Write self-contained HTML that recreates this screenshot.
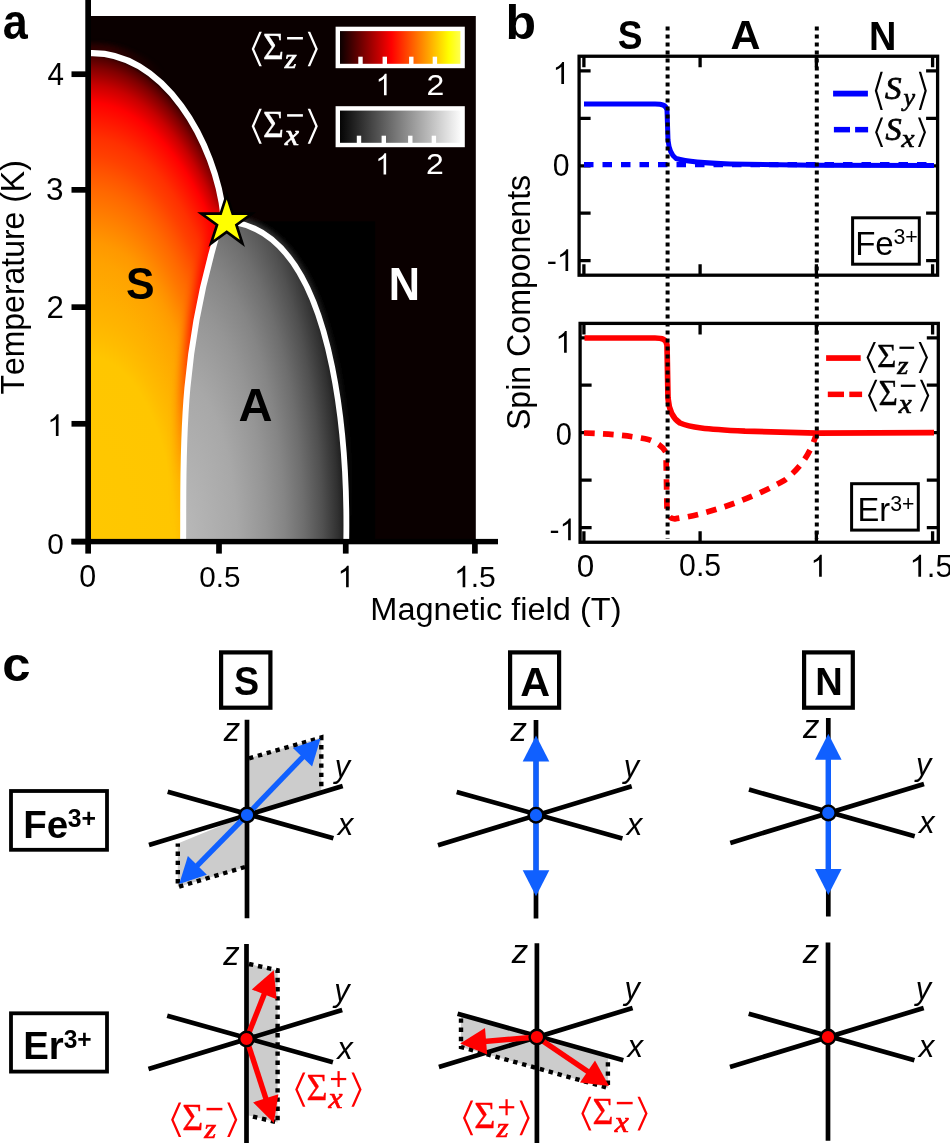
<!DOCTYPE html><html><head><meta charset="utf-8"><style>html,body{margin:0;padding:0;background:#fff;overflow:hidden}svg{display:block;will-change:transform}text{font-family:"Liberation Sans",sans-serif;font-kerning:none}</style></head><body>
<svg width="950" height="1143" viewBox="0 0 950 1143">
<defs>
<radialGradient id="gS" gradientUnits="userSpaceOnUse" cx="0" cy="0" r="1" gradientTransform="translate(88 541.7) scale(228 487)"><stop offset="0" stop-color="#ffc800"/><stop offset="0.38" stop-color="#ffc600"/><stop offset="0.42" stop-color="#ffbc00"/><stop offset="0.46" stop-color="#ffb400"/><stop offset="0.525" stop-color="#ffaa00"/><stop offset="0.575" stop-color="#ffa200"/><stop offset="0.597" stop-color="#ff9c00"/><stop offset="0.614" stop-color="#ff9800"/><stop offset="0.65" stop-color="#ff8800"/><stop offset="0.686" stop-color="#ff7800"/><stop offset="0.722" stop-color="#ff6800"/><stop offset="0.758" stop-color="#ff5500"/><stop offset="0.794" stop-color="#ff4000"/><stop offset="0.83" stop-color="#ff3000"/><stop offset="0.866" stop-color="#ff1800"/><stop offset="0.902" stop-color="#ff0000"/><stop offset="0.938" stop-color="#c80000"/><stop offset="0.974" stop-color="#800000"/><stop offset="0.994" stop-color="#500000"/><stop offset="1.0" stop-color="#300000"/></radialGradient>
<radialGradient id="gS2" gradientUnits="userSpaceOnUse" cx="0" cy="0" r="1" gradientTransform="translate(88 541.7) scale(200 487)"><stop offset="0" stop-color="#ffc800" stop-opacity="0.00"/><stop offset="0.5" stop-color="#ffab00" stop-opacity="0.00"/><stop offset="0.56" stop-color="#ffa400" stop-opacity="0.33"/><stop offset="0.575" stop-color="#ffa200" stop-opacity="0.42"/><stop offset="0.597" stop-color="#ff9c00" stop-opacity="0.54"/><stop offset="0.614" stop-color="#ff9800" stop-opacity="0.63"/><stop offset="0.65" stop-color="#ff8800" stop-opacity="0.83"/><stop offset="0.686" stop-color="#ff7800" stop-opacity="1.00"/><stop offset="0.722" stop-color="#ff6800" stop-opacity="1.00"/><stop offset="0.758" stop-color="#ff5500" stop-opacity="1.00"/><stop offset="0.794" stop-color="#ff4000" stop-opacity="1.00"/><stop offset="0.83" stop-color="#ff3000" stop-opacity="1.00"/><stop offset="0.866" stop-color="#ff1800" stop-opacity="1.00"/><stop offset="0.902" stop-color="#ff0000" stop-opacity="1.00"/><stop offset="0.938" stop-color="#c80000" stop-opacity="1.00"/><stop offset="0.974" stop-color="#800000" stop-opacity="1.00"/><stop offset="0.994" stop-color="#500000" stop-opacity="1.00"/><stop offset="1.0" stop-color="#300000" stop-opacity="1.00"/></radialGradient>
<radialGradient id="gA" gradientUnits="userSpaceOnUse" cx="0" cy="0" r="1" gradientTransform="translate(175 541.7) scale(172 454)"><stop offset="0" stop-color="#bababa"/><stop offset="0.06" stop-color="#b8b8b8"/><stop offset="0.36" stop-color="#a8a8a8"/><stop offset="0.53" stop-color="#959595"/><stop offset="0.64" stop-color="#858585"/><stop offset="0.75" stop-color="#6e6e6e"/><stop offset="0.86" stop-color="#505050"/><stop offset="0.95" stop-color="#303030"/><stop offset="1.0" stop-color="#181818"/></radialGradient>
<linearGradient id="gHot" x1="0" x2="1" y1="0" y2="0"><stop offset="0" stop-color="#000000"/><stop offset="0.43" stop-color="#ff0000"/><stop offset="0.89" stop-color="#ffff00"/><stop offset="1" stop-color="#ffff60"/></linearGradient>
<linearGradient id="gGray" x1="0" x2="1" y1="0" y2="0"><stop offset="0" stop-color="#000"/><stop offset="1" stop-color="#ffffff"/></linearGradient>
<clipPath id="cpA"><rect x="91" y="0" width="385" height="539"/></clipPath>
<clipPath id="cpS"><path d="M86.0,53.4 C163.8,47.8 216.3,144.7 223.5,216.0 L216.5,236.0 C178.1,364.2 184.0,465.7 183.1,545.0 L86,545 Z"/></clipPath>
<linearGradient id="gB" gradientUnits="userSpaceOnUse" x1="0" y1="200" x2="0" y2="541"><stop offset="0" stop-color="#f00" stop-opacity="1"/><stop offset="0.235" stop-color="#f00" stop-opacity="0.95"/><stop offset="0.44" stop-color="#f00" stop-opacity="0.7"/><stop offset="0.645" stop-color="#f00" stop-opacity="0.3"/><stop offset="0.82" stop-color="#f00" stop-opacity="0.06"/><stop offset="1" stop-color="#f00" stop-opacity="0"/></linearGradient>
<filter id="fB" x="-50%" y="-10%" width="200%" height="120%"><feGaussianBlur stdDeviation="5"/></filter>
<linearGradient id="gH" gradientUnits="userSpaceOnUse" x1="0" y1="220" x2="0" y2="541"><stop offset="0" stop-color="#3a3a3a" stop-opacity="0.9"/><stop offset="0.3" stop-color="#3a3a3a" stop-opacity="0.5"/><stop offset="0.7" stop-color="#444" stop-opacity="0.15"/><stop offset="1" stop-color="#444" stop-opacity="0"/></linearGradient>
<filter id="fH" x="-20%" y="-20%" width="140%" height="140%"><feGaussianBlur stdDeviation="2.5"/></filter>
<linearGradient id="gMk" gradientUnits="userSpaceOnUse" x1="110" y1="0" x2="165" y2="0"><stop offset="0" stop-color="#fff"/><stop offset="1" stop-color="#000"/></linearGradient><mask id="mG" maskUnits="userSpaceOnUse" x="0" y="0" width="950" height="600"><rect x="91" y="16" width="120" height="110" fill="url(#gMk)"/></mask>
</defs>
<g transform="matrix(0.4491 0 0 0.4927 2.85 39.11)" fill="#000" style="color:#000"><text x="0" y="0" font-size="100" font-weight="bold">a</text></g>
<rect x="91" y="16" width="384.8" height="523" fill="#0a0000"/>
<rect x="247" y="221.3" width="128.1" height="318" fill="#000"/>
<g clip-path="url(#cpA)">
<g mask="url(#mG)"><path d="M86.0,53.4 C163.8,47.8 216.3,144.7 223.5,216.0" fill="none" stroke="url(#gS)" stroke-width="20" opacity="0.9" filter="url(#fH)"/></g>
<path d="M86.0,53.4 C163.8,47.8 216.3,144.7 223.5,216.0 L216.5,236.0 C178.1,364.2 184.0,465.7 183.1,545.0 L86,545 Z" fill="url(#gS)"/>
<path d="M86.0,53.4 C163.8,47.8 216.3,144.7 223.5,216.0 L216.5,236.0 C178.1,364.2 184.0,465.7 183.1,545.0 L86,545 Z" fill="url(#gS2)"/>
<path d="M236.0,222.5 C344.3,243.3 347.4,479.6 346.2,545.0" fill="none" stroke="url(#gH)" stroke-width="12" filter="url(#fH)"/>
<path d="M216.5,236.0 C178.1,364.2 184.0,465.7 183.1,545.0 L346.2,545 C347.4,479.6 344.3,243.3 236.0,222.5 L226,224 Z" fill="url(#gA)"/>
<g clip-path="url(#cpS)"><path d="M222,212 L216.5,236 C178.1,364.2 184.0,465.7 183.1,545.0" fill="none" stroke="url(#gB)" stroke-width="14" filter="url(#fB)"/></g>
<path d="M86.0,53.4 C163.8,47.8 216.3,144.7 223.5,216.0" fill="none" stroke="#fff" stroke-width="6.2"/>
<path d="M216.5,236.0 C178.1,364.2 184.0,465.7 183.1,545.0" fill="none" stroke="#fff" stroke-width="6"/>
<path d="M236.0,222.5 C344.3,243.3 347.4,479.6 346.2,545.0" fill="none" stroke="#fff" stroke-width="5.8"/>
</g>
<path d="M226.70,195.10 L232.70,213.55 L252.09,213.55 L236.40,224.95 L242.39,243.40 L226.70,232.00 L211.01,243.40 L217.00,224.95 L201.31,213.55 L220.70,213.55Z" fill="#ffff00" stroke="#000" stroke-width="2.7"/>
<g transform="matrix(0.4283 0 0 0.4451 126.12 299.15)" fill="#000" style="color:#000"><text x="0" y="0" font-size="100" font-weight="bold">S</text></g>
<g transform="matrix(0.4712 0 0 0.4618 238.59 420.66)" fill="#000" style="color:#000"><text x="0" y="0" font-size="100" font-weight="bold">A</text></g>
<g transform="matrix(0.4328 0 0 0.4594 388.87 299.80)" fill="#fff" style="color:#fff"><text x="0" y="0" font-size="100" font-weight="bold">N</text></g>
<rect x="337.8" y="28.9" width="124.8" height="37.1" fill="url(#gHot)" stroke="#fff" stroke-width="4.4"/>
<rect x="358.3" y="56.7" width="4.4" height="8" fill="#fff"/>
<rect x="382.6" y="56.7" width="4.4" height="8" fill="#fff"/>
<rect x="409.1" y="56.7" width="4.4" height="8" fill="#fff"/>
<rect x="432.7" y="56.7" width="4.4" height="8" fill="#fff"/>
<rect x="337.8" y="108.4" width="124.8" height="36.6" fill="url(#gGray)" stroke="#fff" stroke-width="4.4"/>
<rect x="356.8" y="135.7" width="4.4" height="8" fill="#fff"/>
<rect x="381.6" y="135.7" width="4.4" height="8" fill="#fff"/>
<rect x="408.1" y="135.7" width="4.4" height="8" fill="#fff"/>
<rect x="431.7" y="135.7" width="4.4" height="8" fill="#fff"/>
<g transform="matrix(0.2986 0 0 0.2986 375.48 95.30)" fill="#fff" style="color:#fff"><g transform="translate(0 0)"><path d="M763,0 L583,0 L583,1147 Q518,1085 413,1023 Q308,961 223,930 L223,1104 Q374,1175 487,1276 Q600,1377 647,1472 L763,1472 Z" transform="scale(0.048828 -0.048828)"/></g></g>
<g transform="matrix(0.3196 0 0 0.3000 426.50 94.80)" fill="#fff" style="color:#fff"><text x="0" y="0" font-size="100">2</text></g>
<g transform="matrix(0.2944 0 0 0.2944 375.18 174.50)" fill="#fff" style="color:#fff"><g transform="translate(0 0)"><path d="M763,0 L583,0 L583,1147 Q518,1085 413,1023 Q308,961 223,930 L223,1104 Q374,1175 487,1276 Q600,1377 647,1472 L763,1472 Z" transform="scale(0.048828 -0.048828)"/></g></g>
<g transform="matrix(0.3196 0 0 0.3000 425.90 174.30)" fill="#fff" style="color:#fff"><text x="0" y="0" font-size="100">2</text></g>
<path d="M259.30,31.70 L261.80,31.70 L254.20,49.00 L261.80,66.30 L259.30,66.30 L251.70,49.00Z M310.20,31.70 L307.70,31.70 L315.30,49.00 L307.70,66.30 L310.20,66.30 L317.80,49.00Z" fill="#fff"/>
<g transform="matrix(0.3588 0 0 0.3818 262.92 59.32)" fill="#fff" style="color:#fff"><text stroke="currentColor" stroke-width="1.0" x="0" y="0" font-size="100" style="font-family:'Liberation Serif',serif">&#931;</text></g>
<rect x="287.10" y="37.00" width="15.80" height="2.50" fill="#fff"/>
<g transform="matrix(0.3073 0 0 0.2812 284.81 67.72)" fill="#fff" style="color:#fff"><text stroke="currentColor" stroke-width="2.5" x="0" y="0" font-size="100" font-style="italic" style="font-family:'Liberation Serif',serif">z</text></g>
<path d="M259.30,108.80 L261.80,108.80 L254.20,126.30 L261.80,143.80 L259.30,143.80 L251.70,126.30Z M310.20,108.80 L307.70,108.80 L315.30,126.30 L307.70,143.80 L310.20,143.80 L317.80,126.30Z" fill="#fff"/>
<g transform="matrix(0.3588 0 0 0.3862 262.92 136.74)" fill="#fff" style="color:#fff"><text stroke="currentColor" stroke-width="1.0" x="0" y="0" font-size="100" style="font-family:'Liberation Serif',serif">&#931;</text></g>
<rect x="287.10" y="114.16" width="15.80" height="2.53" fill="#fff"/>
<g transform="matrix(0.3149 0 0 0.2950 284.93 145.33)" fill="#fff" style="color:#fff"><text stroke="currentColor" stroke-width="2.5" x="0" y="0" font-size="100" font-style="italic" style="font-family:'Liberation Serif',serif">x</text></g>
<rect x="85.3" y="0" width="5.7" height="553.6" fill="#000"/>
<rect x="71.5" y="538.9" width="426.5" height="5.4" fill="#000"/>
<rect x="71.5" y="538.75" width="15" height="5.7" fill="#000"/>
<rect x="71.5" y="420.95" width="15" height="5.7" fill="#000"/>
<rect x="71.5" y="304.30" width="15" height="5.7" fill="#000"/>
<rect x="71.5" y="187.00" width="15" height="5.7" fill="#000"/>
<rect x="71.5" y="71.35" width="15" height="5.7" fill="#000"/>
<rect x="216.15" y="544" width="5.7" height="9.6" fill="#000"/>
<rect x="342.90" y="544" width="5.7" height="9.6" fill="#000"/>
<rect x="472.05" y="544" width="5.7" height="9.6" fill="#000"/>
<g transform="matrix(0.2961 0 0 0.3162 47.41 84.82)" fill="#000" style="color:#000"><text x="0" y="0" font-size="100">4</text></g>
<g transform="matrix(0.3149 0 0 0.3113 46.04 200.09)" fill="#000" style="color:#000"><text x="0" y="0" font-size="100">3</text></g>
<g transform="matrix(0.3120 0 0 0.3157 46.49 318.20)" fill="#000" style="color:#000"><text x="0" y="0" font-size="100">2</text></g>
<g transform="matrix(0.3028 0 0 0.3028 47.26 436.00)" fill="#000" style="color:#000"><g transform="translate(0 0)"><path d="M763,0 L583,0 L583,1147 Q518,1085 413,1023 Q308,961 223,930 L223,1104 Q374,1175 487,1276 Q600,1377 647,1472 L763,1472 Z" transform="scale(0.048828 -0.048828)"/></g></g>
<g transform="matrix(0.2979 0 0 0.3028 47.21 553.70)" fill="#000" style="color:#000"><text x="0" y="0" font-size="100">0</text></g>
<g transform="matrix(0.3042 0 0 0.3070 79.18 586.89)" fill="#000" style="color:#000"><text x="0" y="0" font-size="100">0</text></g>
<g transform="matrix(0.2962 0 0 0.2986 199.22 586.90)" fill="#000" style="color:#000"><text x="0" y="0" font-size="100">0.5</text></g>
<g transform="matrix(0.2986 0 0 0.2986 337.58 587.20)" fill="#000" style="color:#000"><g transform="translate(0 0)"><path d="M763,0 L583,0 L583,1147 Q518,1085 413,1023 Q308,961 223,930 L223,1104 Q374,1175 487,1276 Q600,1377 647,1472 L763,1472 Z" transform="scale(0.048828 -0.048828)"/></g></g>
<g transform="matrix(0.3000 0 0 0.3000 454.10 587.30)" fill="#000" style="color:#000"><g transform="translate(0 0)"><path d="M763,0 L583,0 L583,1147 Q518,1085 413,1023 Q308,961 223,930 L223,1104 Q374,1175 487,1276 Q600,1377 647,1472 L763,1472 Z" transform="scale(0.048828 -0.048828)"/></g><text x="55.6" y="0" font-size="100">.5</text></g>
<g transform="matrix(0.3252 0 0 0.3202 370.30 619.58)" fill="#000" style="color:#000"><text x="0" y="0" font-size="100">Magnetic field (T)</text></g>
<g transform="translate(23.60 394.54) rotate(-90) scale(0.3196 0.3324)" fill="#000"><text x="0" y="0" font-size="100">Temperature (K)</text></g>
<g transform="matrix(0.5000 0 0 0.4836 505.40 38.50)" fill="#000" style="color:#000"><text x="0" y="0" font-size="100" font-weight="bold">b</text></g>
<g transform="matrix(0.3717 0 0 0.4035 617.68 49.30)" fill="#000" style="color:#000"><text x="0" y="0" font-size="100" font-weight="bold">S</text></g>
<g transform="matrix(0.4152 0 0 0.3985 730.55 49.20)" fill="#000" style="color:#000"><text x="0" y="0" font-size="100" font-weight="bold">A</text></g>
<g transform="matrix(0.3793 0 0 0.4000 869.04 49.80)" fill="#000" style="color:#000"><text x="0" y="0" font-size="100" font-weight="bold">N</text></g>
<rect x="579.1" y="56.25" width="358.50" height="218.95" fill="none" stroke="#000" stroke-width="3.3"/>
<path d="M579.1,70.9h11.5 M937.6,70.9h-11.5" stroke="#000" stroke-width="3.3"/>
<path d="M579.1,118.4h11.5 M937.6,118.4h-11.5" stroke="#000" stroke-width="3.3"/>
<path d="M579.1,165.8h11.5 M937.6,165.8h-11.5" stroke="#000" stroke-width="3.3"/>
<path d="M579.1,213.2h11.5 M937.6,213.2h-11.5" stroke="#000" stroke-width="3.3"/>
<path d="M579.1,260.7h11.5 M937.6,260.7h-11.5" stroke="#000" stroke-width="3.3"/>
<path d="M583.9,56.25v11 M583.9,275.2v-11" stroke="#000" stroke-width="3.3"/>
<path d="M700.1,56.25v11 M700.1,275.2v-11" stroke="#000" stroke-width="3.3"/>
<path d="M816.4,56.25v11 M816.4,275.2v-11" stroke="#000" stroke-width="3.3"/>
<path d="M932.6,56.25v11 M932.6,275.2v-11" stroke="#000" stroke-width="3.3"/>
<rect x="580.1" y="323.4" width="358.20" height="218.85" fill="none" stroke="#000" stroke-width="3.3"/>
<path d="M580.1,337.8h11.5 M938.3,337.8h-11.5" stroke="#000" stroke-width="3.3"/>
<path d="M580.1,385.2h11.5 M938.3,385.2h-11.5" stroke="#000" stroke-width="3.3"/>
<path d="M580.1,432.7h11.5 M938.3,432.7h-11.5" stroke="#000" stroke-width="3.3"/>
<path d="M580.1,480.2h11.5 M938.3,480.2h-11.5" stroke="#000" stroke-width="3.3"/>
<path d="M580.1,527.6h11.5 M938.3,527.6h-11.5" stroke="#000" stroke-width="3.3"/>
<path d="M583.9,323.4v11 M583.9,542.25v-11" stroke="#000" stroke-width="3.3"/>
<path d="M700.1,323.4v11 M700.1,542.25v-11" stroke="#000" stroke-width="3.3"/>
<path d="M816.4,323.4v11 M816.4,542.25v-11" stroke="#000" stroke-width="3.3"/>
<path d="M932.6,323.4v11 M932.6,542.25v-11" stroke="#000" stroke-width="3.3"/>
<g transform="matrix(0.3076 0 0 0.3076 552.57 84.05)" fill="#000" style="color:#000"><g transform="translate(0 0)"><path d="M763,0 L583,0 L583,1147 Q518,1085 413,1023 Q308,961 223,930 L223,1104 Q374,1175 487,1276 Q600,1377 647,1472 L763,1472 Z" transform="scale(0.048828 -0.048828)"/></g></g>
<g transform="matrix(0.3021 0 0 0.3070 552.69 176.49)" fill="#000" style="color:#000"><text x="0" y="0" font-size="100">0</text></g>
<g transform="matrix(0.3045 0 0 0.3014 546.68 270.90)" fill="#000" style="color:#000"><text x="0" y="0" font-size="100">-</text><g transform="translate(33.3 0)"><path d="M763,0 L583,0 L583,1147 Q518,1085 413,1023 Q308,961 223,930 L223,1104 Q374,1175 487,1276 Q600,1377 647,1472 L763,1472 Z" transform="scale(0.048828 -0.048828)"/></g></g>
<g transform="matrix(0.3042 0 0 0.3042 555.40 352.80)" fill="#000" style="color:#000"><g transform="translate(0 0)"><path d="M763,0 L583,0 L583,1147 Q518,1085 413,1023 Q308,961 223,930 L223,1104 Q374,1175 487,1276 Q600,1377 647,1472 L763,1472 Z" transform="scale(0.048828 -0.048828)"/></g></g>
<g transform="matrix(0.2896 0 0 0.3113 555.84 444.79)" fill="#000" style="color:#000"><text x="0" y="0" font-size="100">0</text></g>
<g transform="matrix(0.3000 0 0 0.3042 549.60 540.30)" fill="#000" style="color:#000"><text x="0" y="0" font-size="100">-</text><g transform="translate(33.3 0)"><path d="M763,0 L583,0 L583,1147 Q518,1085 413,1023 Q308,961 223,930 L223,1104 Q374,1175 487,1276 Q600,1377 647,1472 L763,1472 Z" transform="scale(0.048828 -0.048828)"/></g></g>
<g transform="matrix(0.3146 0 0 0.3211 576.84 577.48)" fill="#000" style="color:#000"><text x="0" y="0" font-size="100">0</text></g>
<g transform="matrix(0.3023 0 0 0.3155 679.09 576.28)" fill="#000" style="color:#000"><text x="0" y="0" font-size="100">0.5</text></g>
<g transform="matrix(0.3042 0 0 0.3042 810.45 576.70)" fill="#000" style="color:#000"><g transform="translate(0 0)"><path d="M763,0 L583,0 L583,1147 Q518,1085 413,1023 Q308,961 223,930 L223,1104 Q374,1175 487,1276 Q600,1377 647,1472 L763,1472 Z" transform="scale(0.048828 -0.048828)"/></g></g>
<g transform="matrix(0.3113 0 0 0.3068 909.48 576.69)" fill="#000" style="color:#000"><g transform="translate(0 0)"><path d="M763,0 L583,0 L583,1147 Q518,1085 413,1023 Q308,961 223,930 L223,1104 Q374,1175 487,1276 Q600,1377 647,1472 L763,1472 Z" transform="scale(0.048828 -0.048828)"/></g><text x="55.6" y="0" font-size="100">.5</text></g>
<g transform="translate(530.10 430.11) rotate(-90) scale(0.3212 0.3341)" fill="#000"><text x="0" y="0" font-size="100">Spin Components</text></g>
<path d="M584,164.6 H934" stroke="#0000ff" stroke-width="5.1" stroke-dasharray="9.5 9" fill="none"/>
<path d="M584,104 L655,104 C662,104 666,105 667,110 L668,140 C669,150 671,155 676,158.5 C685,161 700,163 730,164 L815,165.3 L934,165.6" stroke="#0000ff" stroke-width="5" fill="none"/>
<path d="M584.5,338 L655,338 C662,338 666,339 667,345 L668,398 C669,410 672,418 680,423 C690,427.5 705,429 745,431.2 L816.8,433.1 L934,432.7" stroke="#ff0000" stroke-width="5.7" fill="none"/>
<path d="M584,433 C610,433.9 631,435.6 649.3,439.8 C658,443 663,447 666,452.4 L667,509 C668,516 670,519 675,518.8 C705,515 750,500 785,480 C800,468 810,455 817,432.4" stroke="#ff0000" stroke-width="5.7" stroke-dasharray="10.5 8.5" fill="none"/>
<path d="M667.6,26.5 V539" stroke="#000" stroke-width="4" stroke-dasharray="4 4"/>
<path d="M816.8,26.5 V539" stroke="#000" stroke-width="4" stroke-dasharray="4 4"/>
<rect x="833.1" y="90.7" width="34.8" height="5.8" fill="#0000ff"/>
<rect x="833.9" y="126.9" width="16.1" height="5.5" fill="#0000ff"/><rect x="855.1" y="126.9" width="13" height="5.5" fill="#0000ff"/>
<path d="M880.50,71.7 L882.80,71.7 L877.10,90.80 L882.80,109.9 L880.50,109.9 L874.8,90.80Z M921.10,71.7 L918.80,71.7 L924.50,90.80 L918.80,109.9 L921.10,109.9 L926.8,90.80Z" fill="#000"/>
<g transform="matrix(0.3300 0 0 0.3143 885.10 99.06)" fill="#000" style="color:#000"><text stroke="currentColor" stroke-width="2.5" x="0" y="0" font-size="100" font-style="italic" style="font-family:'Liberation Serif',serif">S</text></g>
<g transform="matrix(0.2607 0 0 0.2429 903.41 105.76)" fill="#000" style="color:#000"><text stroke="currentColor" stroke-width="2.5" x="0" y="0" font-size="100" font-style="italic" style="font-family:'Liberation Serif',serif">y</text></g>
<path d="M880.80,117.4 L883.10,117.4 L877.40,132.15 L883.10,146.9 L880.80,146.9 L875.1,132.15Z M920.30,117.4 L918.00,117.4 L923.70,132.15 L918.00,146.9 L920.30,146.9 L926,132.15Z" fill="#000"/>
<g transform="matrix(0.3220 0 0 0.3157 885.50 140.45)" fill="#000" style="color:#000"><text stroke="currentColor" stroke-width="2.5" x="0" y="0" font-size="100" font-style="italic" style="font-family:'Liberation Serif',serif">S</text></g>
<g transform="matrix(0.2936 0 0 0.2625 901.39 147.44)" fill="#000" style="color:#000"><text stroke="currentColor" stroke-width="2.5" x="0" y="0" font-size="100" font-style="italic" style="font-family:'Liberation Serif',serif">x</text></g>
<rect x="826.1" y="355.2" width="34.6" height="5.7" fill="#ff0000"/>
<rect x="827.8" y="391.6" width="16.2" height="5.5" fill="#ff0000"/><rect x="849.3" y="391.6" width="12.8" height="5.5" fill="#ff0000"/>
<path d="M873.57,341.90 L875.90,341.90 L868.83,357.40 L875.90,372.90 L873.57,372.90 L866.50,357.40Z M920.93,341.90 L918.60,341.90 L925.67,357.40 L918.60,372.90 L920.93,372.90 L928.00,357.40Z" fill="#000"/>
<g transform="matrix(0.3339 0 0 0.3421 876.94 366.64)" fill="#000" style="color:#000"><text stroke="currentColor" stroke-width="1.0" x="0" y="0" font-size="100" style="font-family:'Liberation Serif',serif">&#931;</text></g>
<rect x="899.44" y="346.65" width="14.70" height="2.24" fill="#000"/>
<g transform="matrix(0.2859 0 0 0.2520 897.31 374.17)" fill="#000" style="color:#000"><text stroke="currentColor" stroke-width="2.5" x="0" y="0" font-size="100" font-style="italic" style="font-family:'Liberation Serif',serif">z</text></g>
<path d="M875.05,379.80 L877.37,379.80 L870.32,395.60 L877.37,411.40 L875.05,411.40 L868.00,395.60Z M922.25,379.80 L919.93,379.80 L926.98,395.60 L919.93,411.40 L922.25,411.40 L929.30,395.60Z" fill="#000"/>
<g transform="matrix(0.3328 0 0 0.3487 878.41 405.02)" fill="#000" style="color:#000"><text stroke="currentColor" stroke-width="1.0" x="0" y="0" font-size="100" style="font-family:'Liberation Serif',serif">&#931;</text></g>
<rect x="900.83" y="384.64" width="14.65" height="2.28" fill="#000"/>
<g transform="matrix(0.2920 0 0 0.2664 898.82 412.78)" fill="#000" style="color:#000"><text stroke="currentColor" stroke-width="2.5" x="0" y="0" font-size="100" font-style="italic" style="font-family:'Liberation Serif',serif">x</text></g>
<rect x="852.6" y="217.8" width="66.7" height="46.4" fill="#fff" stroke="#000" stroke-width="3"/>
<g transform="matrix(0.3308 0 0 0.3343 855.15 254.57)" fill="#000" style="color:#000"><text x="0" y="0" font-size="100">Fe</text></g>
<g transform="matrix(0.2133 0 0 0.2155 893.45 244.28)" fill="#000" style="color:#000"><text x="0" y="0" font-size="100">3+</text></g>
<rect x="851.6" y="483.7" width="66.7" height="46.4" fill="#fff" stroke="#000" stroke-width="3"/>
<g transform="matrix(0.3267 0 0 0.3348 857.59 521.30)" fill="#000" style="color:#000"><text x="0" y="0" font-size="100">Er</text></g>
<g transform="matrix(0.2124 0 0 0.2254 890.25 511.17)" fill="#000" style="color:#000"><text x="0" y="0" font-size="100">3+</text></g>
<g transform="matrix(0.5082 0 0 0.4873 2.37 681.21)" fill="#000" style="color:#000"><text x="0" y="0" font-size="100" font-weight="bold">c</text></g>
<rect x="221.1" y="652.4" width="49.3" height="55.3" fill="none" stroke="#000" stroke-width="4.2"/>
<g transform="matrix(0.3767 0 0 0.4028 233.97 695.30)" fill="#000" style="color:#000"><text x="0" y="0" font-size="100" font-weight="bold">S</text></g>
<rect x="510.1" y="652.4" width="49.0" height="55.3" fill="none" stroke="#000" stroke-width="4.2"/>
<g transform="matrix(0.4136 0 0 0.3985 520.26 695.50)" fill="#000" style="color:#000"><text x="0" y="0" font-size="100" font-weight="bold">A</text></g>
<rect x="804.1" y="652.4" width="48.7" height="55.3" fill="none" stroke="#000" stroke-width="4.2"/>
<g transform="matrix(0.3810 0 0 0.3928 815.33 695.10)" fill="#000" style="color:#000"><text x="0" y="0" font-size="100" font-weight="bold">N</text></g>
<rect x="11" y="791" width="96" height="58.8" fill="none" stroke="#000" stroke-width="3.8"/>
<g transform="matrix(0.3849 0 0 0.3957 23.21 838.30)" fill="#000" style="color:#000"><text x="0" y="0" font-size="100" font-weight="bold">Fe</text></g>
<g transform="matrix(0.2481 0 0 0.2535 67.70 827.45)" fill="#000" style="color:#000"><text x="0" y="0" font-size="100" font-weight="bold">3+</text></g>
<rect x="11" y="1013.3" width="96" height="58.3" fill="none" stroke="#000" stroke-width="3.8"/>
<g transform="matrix(0.3845 0 0 0.3971 23.21 1058.70)" fill="#000" style="color:#000"><text x="0" y="0" font-size="100" font-weight="bold">Er</text></g>
<g transform="matrix(0.2454 0 0 0.2577 63.71 1048.34)" fill="#000" style="color:#000"><text x="0" y="0" font-size="100" font-weight="bold">3+</text></g>
<path d="M247,815 L247,758.8 L321.3,737.5 L321.3,792.5 Z M247,815 L247,866.5 L177.8,887 L177.8,843.5 Z" fill="#cccccc"/>
<path d="M249,758.3 L321.3,737.5 L321.3,792.5 M245,867 L177.8,887 L177.8,843.5" stroke="#000" stroke-width="4.4" stroke-dasharray="4.4 4.8" fill="none"/>
<path d="M167.7,791.7 L333.4,838.3 M149.0,845.0 L342.7,786.0 M247.0,719.7 V918.2" stroke="#000" stroke-width="4.7" fill="none"/>
<path d="M247.0,815.0 L303.9,755.8" stroke="#1060ff" stroke-width="5.4"/>
<path d="M320.5,738.5 L312.1,766.5 L292.9,748.0Z" fill="#1060ff"/>
<path d="M247.0,815.0 L196.0,866.9" stroke="#1060ff" stroke-width="5.4"/>
<path d="M179.2,884.0 L187.9,856.1 L206.9,874.8Z" fill="#1060ff"/>
<circle cx="247" cy="815" r="7.3" fill="#1060ff" stroke="#000" stroke-width="2.4"/>
<g transform="matrix(0.3286 0 0 0.3302 223.80 740.50)" fill="#000" style="color:#000"><text x="0" y="0" font-size="100" font-style="italic">z</text></g>
<g transform="matrix(0.3067 0 0 0.3189 334.63 776.90)" fill="#000" style="color:#000"><text x="0" y="0" font-size="100" font-style="italic">y</text></g>
<g transform="matrix(0.3125 0 0 0.3208 337.65 835.10)" fill="#000" style="color:#000"><text x="0" y="0" font-size="100" font-style="italic">x</text></g>
<path d="M456.7,791.9 L622.4,838.5 M438.0,845.2 L631.7,786.2 M536.0,720 V918.6" stroke="#000" stroke-width="4.7" fill="none"/>
<path d="M536.0,815.2 L536.0,759.5" stroke="#1060ff" stroke-width="5.4"/>
<path d="M536.0,735.5 L549.3,761.5 L522.7,761.5Z" fill="#1060ff"/>
<path d="M536.0,815.2 L536.0,872.3" stroke="#1060ff" stroke-width="5.4"/>
<path d="M536.0,896.3 L522.7,870.3 L549.3,870.3Z" fill="#1060ff"/>
<circle cx="536" cy="815.2" r="7.3" fill="#1060ff" stroke="#000" stroke-width="2.4"/>
<g transform="matrix(0.3286 0 0 0.3302 510.50 740.70)" fill="#000" style="color:#000"><text x="0" y="0" font-size="100" font-style="italic">z</text></g>
<g transform="matrix(0.3067 0 0 0.3189 623.63 777.10)" fill="#000" style="color:#000"><text x="0" y="0" font-size="100" font-style="italic">y</text></g>
<g transform="matrix(0.3125 0 0 0.3208 626.65 835.30)" fill="#000" style="color:#000"><text x="0" y="0" font-size="100" font-style="italic">x</text></g>
<path d="M749.0,789.6 L914.7,836.2 M730.3,842.9 L924.0,783.9 M828.3,718.1 V916.4" stroke="#000" stroke-width="4.7" fill="none"/>
<path d="M828.3,812.9 L828.3,757.8" stroke="#1060ff" stroke-width="5.4"/>
<path d="M828.3,733.8 L841.6,759.8 L815.0,759.8Z" fill="#1060ff"/>
<path d="M828.3,812.9 L828.3,870.9" stroke="#1060ff" stroke-width="5.4"/>
<path d="M828.3,894.9 L815.0,868.9 L841.6,868.9Z" fill="#1060ff"/>
<circle cx="828.3" cy="812.9" r="7.3" fill="#1060ff" stroke="#000" stroke-width="2.4"/>
<g transform="matrix(0.3286 0 0 0.3302 803.10 738.40)" fill="#000" style="color:#000"><text x="0" y="0" font-size="100" font-style="italic">z</text></g>
<g transform="matrix(0.3067 0 0 0.3189 915.93 774.80)" fill="#000" style="color:#000"><text x="0" y="0" font-size="100" font-style="italic">y</text></g>
<g transform="matrix(0.3125 0 0 0.3208 918.95 833.00)" fill="#000" style="color:#000"><text x="0" y="0" font-size="100" font-style="italic">x</text></g>
<path d="M246.5,963.5 L277.6,970.3 L277.6,1122.5 L246.5,1115 Z" fill="#cccccc"/>
<path d="M249,964 L277.6,970.3 L277.6,1122.5 L249,1115.6" stroke="#000" stroke-width="4.4" stroke-dasharray="4.4 4.8" fill="none"/>
<path d="M167.2,1015.7 L332.9,1062.3 M148.5,1069.0 L342.2,1010.0 M246.5,944 V1143" stroke="#000" stroke-width="4.7" fill="none"/>
<path d="M246.5,1039.0 L264.9,992.5" stroke="#ff0000" stroke-width="5.4"/>
<path d="M273.8,970.2 L276.6,999.3 L251.8,989.5Z" fill="#ff0000"/>
<path d="M246.5,1039.0 L266.4,1100.2" stroke="#ff0000" stroke-width="5.4"/>
<path d="M273.8,1123.0 L253.1,1102.4 L278.4,1094.2Z" fill="#ff0000"/>
<circle cx="246.5" cy="1039" r="7.3" fill="#ff0000" stroke="#000" stroke-width="2.4"/>
<g transform="matrix(0.3286 0 0 0.3302 223.30 964.50)" fill="#000" style="color:#000"><text x="0" y="0" font-size="100" font-style="italic">z</text></g>
<g transform="matrix(0.3067 0 0 0.3189 334.13 1000.90)" fill="#000" style="color:#000"><text x="0" y="0" font-size="100" font-style="italic">y</text></g>
<g transform="matrix(0.3125 0 0 0.3208 337.15 1059.10)" fill="#000" style="color:#000"><text x="0" y="0" font-size="100" font-style="italic">x</text></g>
<path d="M178.71,1102.60 L181.22,1102.60 L173.60,1119.75 L181.22,1136.90 L178.71,1136.90 L171.10,1119.75Z M229.69,1102.60 L227.18,1102.60 L234.80,1119.75 L227.18,1136.90 L229.69,1136.90 L237.30,1119.75Z" fill="#ff0000"/>
<g transform="matrix(0.3594 0 0 0.3785 182.34 1129.98)" fill="#ff0000" style="color:#ff0000"><text stroke="currentColor" stroke-width="1.0" x="0" y="0" font-size="100" style="font-family:'Liberation Serif',serif">&#931;</text></g>
<rect x="206.55" y="1107.85" width="15.82" height="2.48" fill="#ff0000"/>
<g transform="matrix(0.3078 0 0 0.2788 204.26 1138.31)" fill="#ff0000" style="color:#ff0000"><text stroke="currentColor" stroke-width="2.5" x="0" y="0" font-size="100" font-style="italic" style="font-family:'Liberation Serif',serif">z</text></g>
<path d="M302.83,1072.40 L305.35,1072.40 L297.71,1089.55 L305.35,1106.70 L302.83,1106.70 L295.20,1089.55Z M353.97,1072.40 L351.45,1072.40 L359.09,1089.55 L351.45,1106.70 L353.97,1106.70 L361.60,1089.55Z" fill="#ff0000"/>
<g transform="matrix(0.3605 0 0 0.3785 306.47 1099.78)" fill="#ff0000" style="color:#ff0000"><text stroke="currentColor" stroke-width="1.0" x="0" y="0" font-size="100" style="font-family:'Liberation Serif',serif">&#931;</text></g>
<rect x="330.96" y="1077.94" width="15.27" height="2.20" fill="#ff0000"/><rect x="337.50" y="1071.11" width="2.20" height="15.86" fill="#ff0000"/>
<g transform="matrix(0.3163 0 0 0.2891 328.58 1108.20)" fill="#ff0000" style="color:#ff0000"><text stroke="currentColor" stroke-width="2.5" x="0" y="0" font-size="100" font-style="italic" style="font-family:'Liberation Serif',serif">x</text></g>
<path d="M461,1015.5 L607.9,1056 L607.9,1087.9 L461,1047 Z" fill="#cccccc"/>
<path d="M461,1018.4 L461,1047 L607.9,1087.9 L607.9,1059.5" stroke="#000" stroke-width="4.4" stroke-dasharray="4.4 4.8" fill="none"/>
<path d="M457.6,1013.7 L623.3,1060.3 M438.9,1067.0 L632.6,1008.0 M536.9,943.3 V1143" stroke="#000" stroke-width="4.7" fill="none"/>
<path d="M536.9,1037.0 L484.1,1041.5" stroke="#ff0000" stroke-width="5.4"/>
<path d="M460.2,1043.6 L485.0,1028.1 L487.2,1054.6Z" fill="#ff0000"/>
<path d="M536.9,1037.0 L589.2,1072.5" stroke="#ff0000" stroke-width="5.4"/>
<path d="M609.0,1086.0 L580.0,1082.4 L595.0,1060.4Z" fill="#ff0000"/>
<circle cx="536.9" cy="1037" r="7.3" fill="#ff0000" stroke="#000" stroke-width="2.4"/>
<g transform="matrix(0.3286 0 0 0.3302 511.70 962.50)" fill="#000" style="color:#000"><text x="0" y="0" font-size="100" font-style="italic">z</text></g>
<g transform="matrix(0.3067 0 0 0.3189 624.53 998.90)" fill="#000" style="color:#000"><text x="0" y="0" font-size="100" font-style="italic">y</text></g>
<g transform="matrix(0.3125 0 0 0.3208 627.55 1057.10)" fill="#000" style="color:#000"><text x="0" y="0" font-size="100" font-style="italic">x</text></g>
<path d="M470.67,1100.50 L473.19,1100.50 L465.52,1117.90 L473.19,1135.30 L470.67,1135.30 L463.00,1117.90Z M522.03,1100.50 L519.51,1100.50 L527.18,1117.90 L519.51,1135.30 L522.03,1135.30 L529.70,1117.90Z" fill="#ff0000"/>
<g transform="matrix(0.3621 0 0 0.3840 474.33 1128.28)" fill="#ff0000" style="color:#ff0000"><text stroke="currentColor" stroke-width="1.0" x="0" y="0" font-size="100" style="font-family:'Liberation Serif',serif">&#931;</text></g>
<rect x="498.92" y="1106.14" width="15.34" height="2.20" fill="#ff0000"/><rect x="505.49" y="1099.19" width="2.20" height="16.09" fill="#ff0000"/>
<g transform="matrix(0.3101 0 0 0.2829 496.42 1136.73)" fill="#ff0000" style="color:#ff0000"><text stroke="currentColor" stroke-width="2.5" x="0" y="0" font-size="100" font-style="italic" style="font-family:'Liberation Serif',serif">z</text></g>
<path d="M588.92,1096.70 L591.43,1096.70 L583.81,1113.55 L591.43,1130.40 L588.92,1130.40 L581.30,1113.55Z M639.98,1096.70 L637.47,1096.70 L645.09,1113.55 L637.47,1130.40 L639.98,1130.40 L647.60,1113.55Z" fill="#ff0000"/>
<g transform="matrix(0.3599 0 0 0.3719 592.56 1123.60)" fill="#ff0000" style="color:#ff0000"><text stroke="currentColor" stroke-width="1.0" x="0" y="0" font-size="100" style="font-family:'Liberation Serif',serif">&#931;</text></g>
<rect x="616.81" y="1101.86" width="15.85" height="2.43" fill="#ff0000"/>
<g transform="matrix(0.3158 0 0 0.2841 614.63 1131.87)" fill="#ff0000" style="color:#ff0000"><text stroke="currentColor" stroke-width="2.5" x="0" y="0" font-size="100" font-style="italic" style="font-family:'Liberation Serif',serif">x</text></g>
<path d="M748.7,1013.7 L914.4,1060.3 M730.0,1067.0 L923.7,1008.0 M828.0,942.6 V1140.7" stroke="#000" stroke-width="4.7" fill="none"/>
<circle cx="828" cy="1037" r="7.3" fill="#ff0000" stroke="#000" stroke-width="2.4"/>
<g transform="matrix(0.3286 0 0 0.3302 802.80 962.50)" fill="#000" style="color:#000"><text x="0" y="0" font-size="100" font-style="italic">z</text></g>
<g transform="matrix(0.3067 0 0 0.3189 915.63 998.90)" fill="#000" style="color:#000"><text x="0" y="0" font-size="100" font-style="italic">y</text></g>
<g transform="matrix(0.3125 0 0 0.3208 918.65 1057.10)" fill="#000" style="color:#000"><text x="0" y="0" font-size="100" font-style="italic">x</text></g>
</svg></body></html>
